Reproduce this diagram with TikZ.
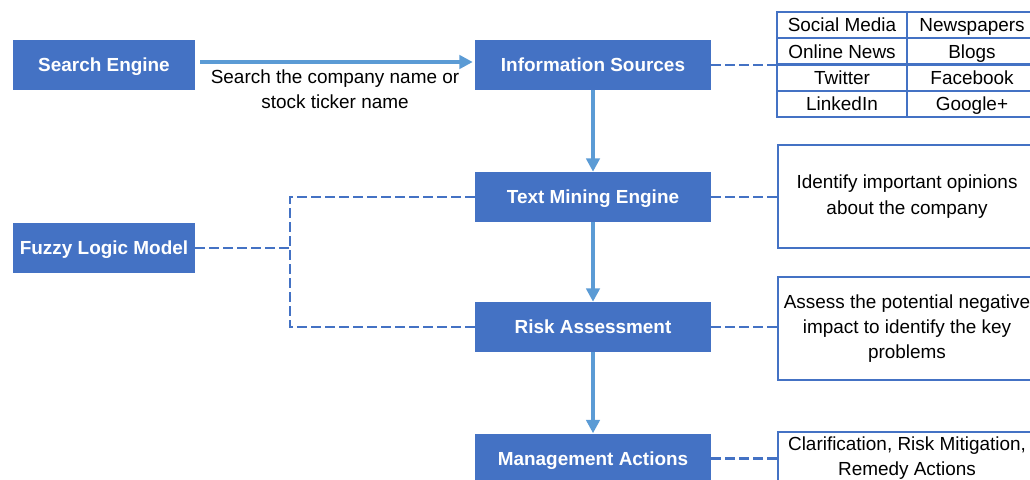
\documentclass[tikz,border=0pt]{standalone}
\usepackage{fontspec}
\setmainfont{Liberation Sans}
\usetikzlibrary{arrows.meta, positioning}

\definecolor{boxblue}{HTML}{4472C4}
\definecolor{flowblue}{HTML}{5B9BD5}

\begin{document}
\begin{tikzpicture}[
  x=0.75pt, y=-0.75pt,
  font=\fontsize{14.2}{19}\selectfont,
  %% Main node styles
  stage/.style={
    fill=boxblue, text=white, inner sep=0pt,
    minimum width=177pt, minimum height=37.5pt,
    text height=11pt, text depth=1pt,
    font=\fontsize{14.2}{19}\selectfont\bfseries
  },
  source/.style={stage, minimum width=136.5pt},
  %% Side notes and table cells
  note/.style={
    draw=boxblue, fill=white, line width=1.6pt, inner sep=0pt,
    minimum width=193.5pt, align=center
  },
  cell/.style={
    draw=boxblue, line width=1.6pt, inner sep=0pt,
    minimum width=97.5pt, minimum height=19.7pt,
    text height=11pt, text depth=1pt
  },
  %% Connector styles
  flow/.style={
    -{Triangle[length=10pt, width=10pt]}, draw=flowblue, line width=2.7pt
  },
  link/.style={
    draw=boxblue, line width=1.8pt, dash pattern=on 7pt off 3.5pt
  },
]
\useasboundingbox (0,0) rectangle (1030,479);

%% ── MAIN NODES ────────────────────────────────────────────────────────────
\node[source] (search)  at (104,65)    {Search Engine};
\node[stage]  (info)    at (593,65)    {Information Sources};
\node[stage]  (mining)  at (593,197)   {Text Mining Engine};
\node[stage]  (risk)    at (593,327)   {Risk Assessment};
\node[stage]  (actions) at (593,458.5) {Management Actions};
\node[source] (fuzzy)   at (104,248)   {Fuzzy Logic Model};

%% ── SOURCE TABLE ──────────────────────────────────────────────────────────
\node[cell] (social)   at (842,25.1)  {Social Media};
\node[cell] (papers)   at (972,25.1)  {Newspapers};
\node[cell] (online)   at (842,51.4)  {Online News};
\node[cell] (blogs)    at (972,51.4)  {Blogs};
\node[cell] (twitter)  at (842,77.6)  {Twitter};
\node[cell] (facebook) at (972,77.6)  {Facebook};
\node[cell] (linkedin) at (842,103.9) {LinkedIn};
\node[cell] (google)   at (972,103.9) {Google+};

%% ── SIDE NOTES ────────────────────────────────────────────────────────────
\node[note, minimum height=77.25pt] (opinions) at (907,196.5)
  {Identify important opinions\\about the company};
\node[note, minimum height=77.25pt] (impact) at (907,328.5)
  {Assess the potential negative\\impact to identify the key\\problems};
\node[note, minimum height=39pt] (remedy) at (907,458)
  {Clarification, Risk Mitigation,\\Remedy Actions};

%% ── MAIN ARROWS ───────────────────────────────────────────────────────────
%% Search Engine → Information Sources
\draw[flow, shorten <=3.75pt, shorten >=1.5pt]
  ([yshift=2.25pt]search.east) -- ([yshift=2.25pt]info.west)
  node[midway, below=1pt, align=center, black]
  {Search the company name or\\stock ticker name};

%% down the pipeline
\draw[flow] (info.south)   -- (mining.north);
\draw[flow] (mining.south) -- (risk.north);
\draw[flow] (risk.south)   -- (actions.north);

%% ── DASHED LINKS ──────────────────────────────────────────────────────────
\draw[link] (info.east)    -- (info.east -| online.west);
\draw[link] (mining.east)  -- (mining.east -| opinions.west);
\draw[link] (risk.east)    -- (risk.east -| impact.west);
\draw[link] (actions.east) -- (actions.east -| remedy.west);

%% Fuzzy Logic Model bracket
\coordinate (fork) at (290,248);
\draw[link] (fuzzy.east) -- (fork);
\draw[link] (mining.west) -| (fork) |- (risk.west);

\end{tikzpicture}
\end{document}
